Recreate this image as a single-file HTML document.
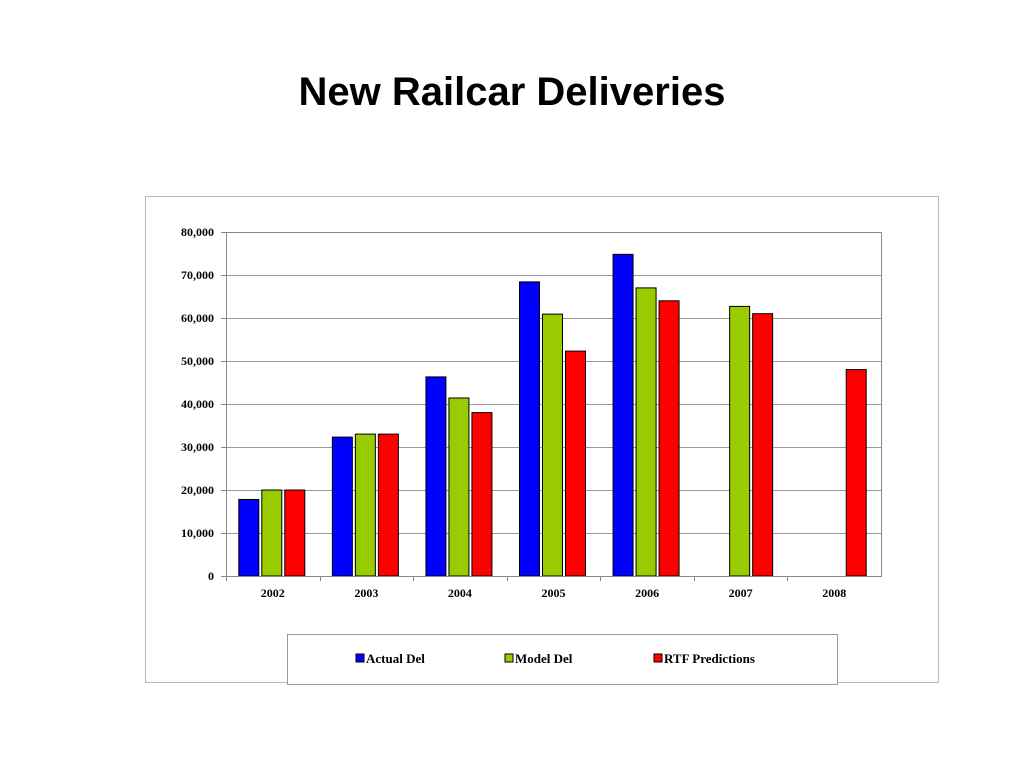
<!DOCTYPE html>
<html><head><meta charset="utf-8"><style>
body{margin:0;background:#fff;width:1024px;height:768px;overflow:hidden;font-family:"Liberation Sans",sans-serif}
#title{position:absolute;left:0;top:70px;width:1024px;text-align:center;font-weight:bold;font-size:40px}
</style></head><body>
<div id="title">New Railcar Deliveries</div>
<svg id="chart" width="1024" height="768" style="position:absolute;left:0;top:0" xmlns="http://www.w3.org/2000/svg">
<rect x="145.5" y="196.5" width="793" height="486" fill="none" stroke="#b8b8b8"/>
<g id="grid"></g><g id="bars"></g><g id="axes"></g>
<rect x="287.5" y="634.5" width="550" height="50" fill="#fff" stroke="#999"/>
<g><rect x="356" y="654" width="8" height="8" fill="#0000ff" stroke="#000"/><text x="366" y="663" font-family="Liberation Serif,serif" font-weight="bold" font-size="13">Actual Del</text></g>
<g><rect x="505" y="654" width="8" height="8" fill="#99cc00" stroke="#000"/><text x="515" y="663" font-family="Liberation Serif,serif" font-weight="bold" font-size="13">Model Del</text></g>
<g><rect x="654" y="654" width="8" height="8" fill="#ff0000" stroke="#000"/><text x="664" y="663" font-family="Liberation Serif,serif" font-weight="bold" font-size="13">RTF Predictions</text></g>
</svg>
<script>
const categories=["2002","2003","2004","2005","2006","2007","2008"];
const actualDel=[17800,32300,46300,68400,74800,null,null];
const modelDel=[20000,33000,41400,60900,67000,62700,null];
const rtfPred=[20000,33000,38000,52300,64000,61000,48000];
const yTicks=[0,10000,20000,30000,40000,50000,60000,70000,80000];
const NS="http://www.w3.org/2000/svg";
const L=226,R=881,T=232,B=576,yMax=80000;
const y=v=>B-(v/yMax)*(B-T);
const bw=(R-L)/categories.length;
const x=i=>L+bw*i;
function mk(tag,attrs,parent){const e=document.createElementNS(NS,tag);for(const k in attrs)e.setAttribute(k,attrs[k]);document.getElementById(parent).appendChild(e);return e;}
yTicks.forEach(t=>{
  const g=mk('line',{x1:L,x2:R,y1:Math.round(y(t))+0.5,y2:Math.round(y(t))+0.5,stroke:t===0?'#888':'#999'},'grid');
  
  
  mk('line',{x1:L-5,x2:L,y1:Math.round(y(t))+0.5,y2:Math.round(y(t))+0.5,stroke:'#888'},'axes');
  const tx=mk('text',{x:L-12,y:y(t)+4,'text-anchor':'end','font-family':'Liberation Serif,serif','font-weight':'bold','font-size':'12'},'axes');
  tx.textContent=t.toLocaleString('en-US');
  
  
});
mk('rect',{x:L+0.5,y:T+0.5,width:R-L,height:B-T,fill:'none',stroke:'#888'},'axes');
categories.forEach((c,i)=>{
  mk('line',{x1:Math.round(x(i))+0.5,x2:Math.round(x(i))+0.5,y1:B,y2:B+5,stroke:'#888'},'axes');
  const tx=mk('text',{x:x(i)+bw/2,y:B+21,'text-anchor':'middle','font-family':'Liberation Serif,serif','font-weight':'bold','font-size':'12'},'axes');
  tx.textContent=c;
  
  
});
const series=[[actualDel,'#0000ff','actual-del-bar'],[modelDel,'#99cc00','model-del-bar'],[rtfPred,'#ff0000','rtf-predictions-bar']];
const barW=20,step=23;
series.forEach(([vals,col,nm],s)=>{
  vals.forEach((v,i)=>{
    if(v==null)return;
    const bx=x(i)+bw/2-34+s*step;
    const r=mk('rect',{x:bx,y:y(v),width:barW,height:B-y(v),fill:col,stroke:'#000','stroke-width':1},'bars');
    
    
  });
});
</script>
</body></html>
